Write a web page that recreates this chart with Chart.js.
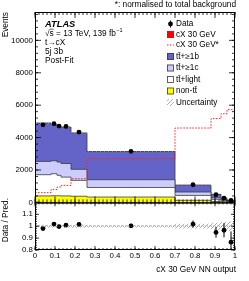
<!DOCTYPE html>
<html>
<head>
<meta charset="utf-8">
<script src="https://cdn.jsdelivr.net/npm/chart.js@4.4.1/dist/chart.umd.min.js"></script>
<style>
  html, body { margin: 0; padding: 0; background: #fff; }
  canvas { display: block; }
</style>
</head>
<body>
<canvas id="plot" width="249" height="281"></canvas>
<script>
// bin edges of the NN output
const binEdges = [0, 0.08, 0.11, 0.13, 0.18, 0.26, 0.7, 0.88, 0.93, 0.96, 1.0];

// post-fit yields per bin (stacked bottom -> top)
const nonTT      = [400, 410, 410, 400, 380, 330, 130, 60, 35, 20];
const ttLight    = [1310, 1360, 1260, 1160, 980, 590, 300, 130, 65, 28];
const ttC        = [820, 800, 820, 840, 680, 480, 210, 90, 50, 25];
const ttB        = [2370, 2220, 2270, 2250, 2250, 1740, 430, 220, 125, 65];
const sigPostFit = [0, 0, 0, 0, 0, 0, 0, 0, 0, 0];

// signal normalised to total background (dotted)
const sigNorm = [600, 800, 950, 1050, 1460, 2700, 4590, 5170, 5470, 5720];

// data
const dataYield = [4790, 4860, 4710, 4690, 4340, 3150, 1090, 475, 265, 120];
const ratioVal  = [0.98, 1.018, 0.997, 1.009, 1.015, 1.003, 1.018, 0.948, 0.966, 0.866];
const ratioErr  = [0.014, 0.014, 0.015, 0.015, 0.015, 0.018, 0.03, 0.045, 0.06, 0.09];

// relative total uncertainty of the prediction
const uncRel = [0.012, 0.012, 0.012, 0.012, 0.012, 0.01, 0.02, 0.03, 0.035, 0.04];

const yTicksMain  = [0, 2000, 4000, 6000, 8000, 10000];
const yTicksRatio = [0.8, 0.9, 1, 1.1];
const xTicks = [0, 0.1, 0.2, 0.3, 0.4, 0.5, 0.6, 0.7, 0.8, 0.9, 1];

const MAIN_MAX = 11750;
const RATIO_MIN = 0.8, RATIO_MAX = 1.2;
const SPLIT = 0.8; // share of the plot height used by the main panel

const FONT = "'Liberation Sans', Arial, Helvetica, sans-serif";
const C_B = '#6464c8', C_C = '#ccccff', C_L = '#ffffff', C_N = '#ffff00', C_EDGE = '#3a3a3a';

function addArr(a, b) { return a.map((v, i) => v + b[i]); }
const cumN = nonTT.slice();
const cumL = addArr(cumN, ttLight);
const cumC = addArr(cumL, ttC);
const cumB = addArr(cumC, ttB);
const cumS = addArr(cumB, sigPostFit);

function steps(vals) {
  const pts = vals.map((v, i) => ({ x: binEdges[i], y: v }));
  pts.push({ x: binEdges[binEdges.length - 1], y: vals[vals.length - 1] });
  return pts;
}
const centers = binEdges.slice(0, -1).map((e, i) => (e + binEdges[i + 1]) / 2);

function hatch() {
  const c = document.createElement('canvas');
  c.width = 4; c.height = 4;
  const g = c.getContext('2d');
  g.strokeStyle = '#9a9a9a';
  g.lineWidth = 0.8;
  g.beginPath();
  g.moveTo(0, 4); g.lineTo(4, 0);
  g.moveTo(-1, 1); g.lineTo(1, -1);
  g.moveTo(3, 5); g.lineTo(5, 3);
  g.stroke();
  return g.createPattern(c, 'repeat');
}
const hatchPattern = hatch();

function stepSet(label, vals, color, extra) {
  return Object.assign({
    label, data: steps(vals), yAxisID: 'y', stepped: true,
    borderColor: C_EDGE, borderWidth: 0.8, backgroundColor: color,
    fill: 'origin', pointRadius: 0
  }, extra || {});
}

const datasets = [
  { label: 'Data', data: centers.map((x, i) => ({ x, y: dataYield[i] })), yAxisID: 'y',
    showLine: false, pointRadius: 2.4, pointBackgroundColor: '#000', pointBorderWidth: 0 },
  { label: 'ratio', data: centers.map((x, i) => ({ x, y: ratioVal[i] })), yAxisID: 'yr',
    showLine: false, pointRadius: 2.4, pointBackgroundColor: '#000', pointBorderWidth: 0 },
  { label: 'cX 30 GeV*', data: steps(sigNorm), yAxisID: 'y', stepped: true,
    borderColor: '#ff2020', borderWidth: 1, borderDash: [1.5, 1.5], fill: false, pointRadius: 0 },
  { label: 'unc up', data: steps(cumS.map((v, i) => v * (1 + uncRel[i]))), yAxisID: 'y', stepped: true,
    borderWidth: 0, pointRadius: 0, fill: 4, backgroundColor: hatchPattern },
  { label: 'unc dn', data: steps(cumS.map((v, i) => v * (1 - uncRel[i]))), yAxisID: 'y', stepped: true,
    borderWidth: 0, pointRadius: 0, fill: false },
  { label: 'r unc up', data: steps(uncRel.map(u => 1 + u)), yAxisID: 'yr', stepped: true,
    borderWidth: 0, pointRadius: 0, fill: 6, backgroundColor: hatchPattern },
  { label: 'r unc dn', data: steps(uncRel.map(u => 1 - u)), yAxisID: 'yr', stepped: true,
    borderWidth: 0, pointRadius: 0, fill: false },
  stepSet('non-tt', cumN, C_N),
  stepSet('tt+light', cumL, C_L),
  stepSet('tt+>=1c', cumC, C_C),
  stepSet('tt+>=1b', cumB, C_B),
  stepSet('cX 30 GeV', cumS, '#ff0000', { borderWidth: 0 })
];

function tickSet(ctx, horiz, scale, from, to, step, fixed, dir, len) {
  const n = Math.round((to - from) / step);
  ctx.beginPath();
  for (let k = 0; k <= n; k++) {
    const p = scale.getPixelForValue(from + k * step);
    if (horiz) { ctx.moveTo(p, fixed); ctx.lineTo(p, fixed + dir * len); }
    else { ctx.moveTo(fixed, p); ctx.lineTo(fixed + dir * len, p); }
  }
  ctx.stroke();
}

const decor = {
  id: 'decor',
  afterDatasetsDraw(chart) {
    const ctx = chart.ctx, a = chart.chartArea;
    const x = chart.scales.x, y = chart.scales.y, yr = chart.scales.yr;
    const split = y.getPixelForValue(0);
    ctx.save();

    // ratio reference line and error bars
    ctx.strokeStyle = '#888';
    ctx.lineWidth = 0.8;
    ctx.setLineDash([1, 1]);
    ctx.beginPath();
    ctx.moveTo(a.left, yr.getPixelForValue(1));
    ctx.lineTo(a.right, yr.getPixelForValue(1));
    ctx.stroke();
    ctx.setLineDash([]);
    ctx.strokeStyle = '#000';
    ctx.lineWidth = 1;
    ctx.beginPath();
    centers.forEach((c, i) => {
      const px = x.getPixelForValue(c);
      ctx.moveTo(px, yr.getPixelForValue(Math.max(RATIO_MIN, ratioVal[i] - ratioErr[i])));
      ctx.lineTo(px, yr.getPixelForValue(ratioVal[i] + ratioErr[i]));
    });
    ctx.stroke();

    // frames
    ctx.clearRect(a.left, a.bottom + 0.5, a.right - a.left + 2, 40);
    ctx.strokeStyle = '#000';
    ctx.lineWidth = 1;
    ctx.strokeRect(a.left + 0.5, a.top + 0.5, a.right - a.left - 1, split - a.top);
    ctx.strokeRect(a.left + 0.5, split + 0.5, a.right - a.left - 1, a.bottom - split - 1);

    // ticks (inward)
    ctx.lineWidth = 0.8;
    tickSet(ctx, true, x, 0, 1, 0.02, a.top, 1, 3);
    tickSet(ctx, true, x, 0, 1, 0.1, a.top, 1, 6);
    tickSet(ctx, true, x, 0, 1, 0.02, split, -1, 3);
    tickSet(ctx, true, x, 0, 1, 0.1, split, -1, 6);
    tickSet(ctx, true, x, 0, 1, 0.02, split, 1, 2);
    tickSet(ctx, true, x, 0, 1, 0.1, split, 1, 4);
    tickSet(ctx, true, x, 0, 1, 0.02, a.bottom, -1, 2);
    tickSet(ctx, true, x, 0, 1, 0.1, a.bottom, -1, 4);
    tickSet(ctx, false, y, 0, 11600, 400, a.left, 1, 3);
    tickSet(ctx, false, y, 0, 10000, 2000, a.left, 1, 6);
    tickSet(ctx, false, y, 0, 11600, 400, a.right, -1, 3);
    tickSet(ctx, false, y, 0, 10000, 2000, a.right, -1, 6);
    tickSet(ctx, false, yr, RATIO_MIN, RATIO_MAX, 0.02, a.left, 1, 2);
    tickSet(ctx, false, yr, RATIO_MIN, RATIO_MAX, 0.1, a.left, 1, 4);
    tickSet(ctx, false, yr, RATIO_MIN, RATIO_MAX, 0.02, a.right, -1, 2);
    tickSet(ctx, false, yr, RATIO_MIN, RATIO_MAX, 0.1, a.right, -1, 4);

    // tick labels
    ctx.fillStyle = '#000';
    ctx.font = '7.9px ' + FONT;
    ctx.textAlign = 'right';
    ctx.textBaseline = 'middle';
    yTicksMain.forEach(v => ctx.fillText(String(v), a.left - 2, y.getPixelForValue(v)));
    yTicksRatio.forEach(v => ctx.fillText(String(v), a.left - 2, yr.getPixelForValue(v)));
    ctx.textAlign = 'center';
    ctx.textBaseline = 'top';
    xTicks.forEach(v => ctx.fillText(String(v), x.getPixelForValue(v), a.bottom + 2));

    // axis titles
    ctx.font = '8.3px ' + FONT;
    ctx.textAlign = 'right';
    ctx.fillText('cX 30 GeV NN output', a.right + 1, a.bottom + 16);
    ctx.save();
    ctx.translate(6, a.top);
    ctx.rotate(-Math.PI / 2);
    ctx.textBaseline = 'middle';
    ctx.fillText('Events', 0, 0);
    ctx.restore();
    ctx.save();
    ctx.translate(6, (split + a.bottom) / 2 - 6);
    ctx.rotate(-Math.PI / 2);
    ctx.textAlign = 'center';
    ctx.textBaseline = 'middle';
    ctx.fillText('Data / Pred.', 0, 0);
    ctx.restore();

    // top note
    ctx.textAlign = 'right';
    ctx.textBaseline = 'middle';
    ctx.fillText('*: normalised to total background', a.right + 1, 5);

    // ATLAS label block
    ctx.textAlign = 'left';
    ctx.font = 'italic bold 9.3px ' + FONT;
    ctx.fillText('ATLAS', 45, 24);
    ctx.font = '8.3px ' + FONT;
    const s1 = '\u221As = 13 TeV, 139 fb';
    ctx.fillText(s1, 45, 33.5);
    const w1 = ctx.measureText(s1).width;
    const wr = ctx.measureText('\u221A').width;
    ctx.beginPath();
    ctx.moveTo(45 + wr, 29.2);
    ctx.lineTo(45 + wr + ctx.measureText('s').width, 29.2);
    ctx.lineWidth = 0.6;
    ctx.stroke();
    ctx.font = '5.5px ' + FONT;
    ctx.fillText('\u22121', 45 + w1 + 0.3, 30.5);
    ctx.font = '8.3px ' + FONT;
    ctx.fillText('t\u2192cX', 45, 42.7);
    ctx.fillText('5j 3b', 45, 51.8);
    ctx.fillText('Post-Fit', 45, 61);

    // legend
    const lx = 167, tx = 176;
    const rows = [
      ['Data', 'data', 24],
      ['cX 30 GeV', '#ff0000', 34.5],
      ['cX 30 GeV*', 'dash', 45],
      ['tt\u0304+\u22651b', C_B, 56.5],
      ['tt\u0304+\u22651c', C_C, 68],
      ['tt\u0304+light', C_L, 79.5],
      ['non-tt\u0304', C_N, 91],
      ['Uncertainty', 'hatch', 102.5]
    ];
    rows.forEach(([label, kind, ry]) => {
      if (kind === 'data') {
        ctx.fillStyle = '#000';
        ctx.beginPath();
        ctx.arc(lx + 3.5, ry, 2.4, 0, Math.PI * 2);
        ctx.fill();
        ctx.beginPath();
        ctx.strokeStyle = '#000';
        ctx.lineWidth = 1;
        ctx.moveTo(lx + 3.5, ry - 3.5);
        ctx.lineTo(lx + 3.5, ry + 3.5);
        ctx.stroke();
      } else if (kind === 'dash') {
        ctx.strokeStyle = '#ff2020';
        ctx.lineWidth = 1;
        ctx.setLineDash([1.5, 1.5]);
        ctx.beginPath();
        ctx.moveTo(lx, ry);
        ctx.lineTo(lx + 7, ry);
        ctx.stroke();
        ctx.setLineDash([]);
      } else if (kind === 'hatch') {
        ctx.fillStyle = hatchPattern;
        ctx.fillRect(lx, ry - 3.5, 7, 7);
      } else {
        ctx.fillStyle = kind;
        ctx.fillRect(lx, ry - 3.5, 7, 7);
        if (kind !== '#ff0000') {
          ctx.strokeStyle = C_EDGE;
          ctx.lineWidth = 0.8;
          ctx.strokeRect(lx + 0.5, ry - 3, 6, 6);
        }
      }
      ctx.fillStyle = '#000';
      ctx.font = '8.2px ' + FONT;
      ctx.textAlign = 'left';
      ctx.textBaseline = 'middle';
      ctx.fillText(label, tx, ry);
    });

    ctx.restore();
  }
};

new Chart(document.getElementById('plot'), {
  type: 'line',
  data: { datasets },
  options: {
    responsive: false,
    animation: false,
    devicePixelRatio: 1,
    layout: { padding: { left: 35, right: 14, top: 12, bottom: 31 } },
    plugins: { legend: { display: false }, tooltip: { enabled: false } },
    scales: {
      x: { type: 'linear', min: 0, max: 1, display: false },
      y: { type: 'linear', display: false, max: MAIN_MAX, min: -MAIN_MAX * (1 - SPLIT) / SPLIT },
      yr: { type: 'linear', display: false, min: RATIO_MIN,
            max: RATIO_MIN + (RATIO_MAX - RATIO_MIN) / (1 - SPLIT) }
    }
  },
  plugins: [decor]
});
</script>
</body>
</html>
